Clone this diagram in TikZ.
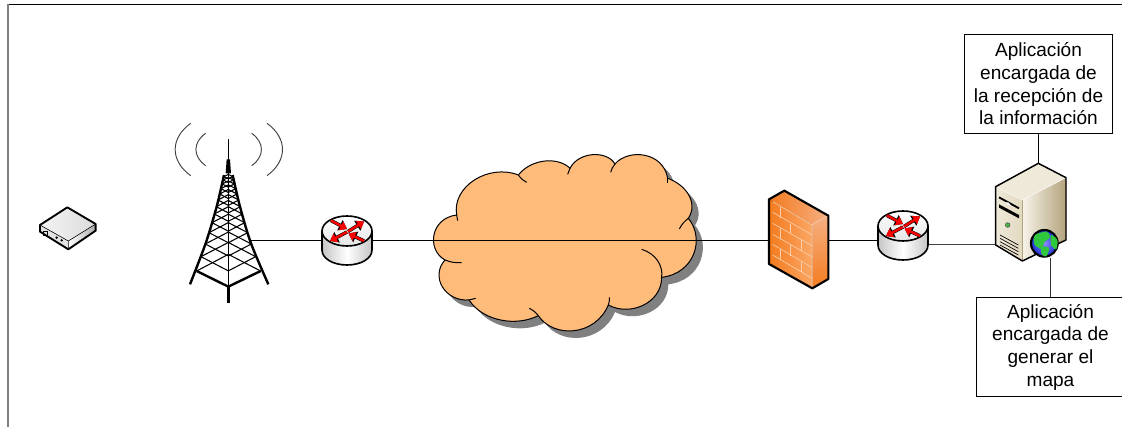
\documentclass[tikz,border=0pt]{standalone}
\usepackage{fontspec}
\setmainfont{Liberation Sans}
\usepackage{xcolor}
\usetikzlibrary{arrows.meta}

\definecolor{cloudfill}{HTML}{FFBB7A}
\definecolor{cloudshadow}{HTML}{808080}
\definecolor{wavegray}{HTML}{404040}
\definecolor{frameleft}{HTML}{808080}
\definecolor{brick}{HTML}{F9CDA8}
\definecolor{fireA}{HTML}{F47B1E}
\definecolor{fireB}{HTML}{FAA766}
\definecolor{fireC}{HTML}{F5B083}
\definecolor{srvA}{HTML}{EFE9D9}
\definecolor{srvB}{HTML}{E2D9C0}
\definecolor{srvC}{HTML}{B3A37C}
\definecolor{srvD}{HTML}{F7F4EA}
\definecolor{globeblue}{HTML}{1A2FD0}
\definecolor{globegreen}{HTML}{2FC83C}

\newcommand\cloudshape{
    (110,225) .. controls (95,140) and (205,70) .. (295,105)
    .. controls (335,55) and (415,50) .. (450,85)
    .. controls (475,35) and (560,30) .. (585,72)
    .. controls (625,25) and (730,35) .. (743,115)
    .. controls (800,135) and (835,190) .. (805,235)
    .. controls (855,295) and (825,400) .. (725,412)
    .. controls (725,490) and (630,530) .. (565,495)
    .. controls (525,590) and (400,595) .. (355,527)
    .. controls (290,560) and (190,545) .. (147,480)
    .. controls (75,485) and (30,410) .. (75,360)
    .. controls (20,330) and (30,235) .. (110,225) -- cycle
}

\tikzset{
    pics/router/.style={code={
        \fill[left color=gray!45, right color=gray!45, middle color=white]
            (-25,-9.5) -- (-25,9.5) .. controls (-25,18) and (-14,24.5) .. (0,24.5)
            .. controls (14,24.5) and (25,18) .. (25,9.5) -- (25,-9.5) -- cycle;
        \draw[line width=1.2pt]
            (-25,-9.5) -- (-25,9.5) .. controls (-25,18) and (-14,24.5) .. (0,24.5)
            .. controls (14,24.5) and (25,18) .. (25,9.5) -- (25,-9.5);
        \draw[line width=1.2pt, top color=white, bottom color=gray!20]
            (0,-9.5) ellipse [x radius=25, y radius=15];
        \foreach \ax/\ay/\bx/\by in {-16/-20/0/-11.5, 1/-9/17/-19, 0/-8.5/-17/0.5, 17/0.5/1.5/-7}{
            \draw[black, line width=2.6pt, -{Triangle[length=6pt, width=8.5pt]}] (\ax,\ay) -- (\bx,\by);
            \draw[red, line width=1.8pt, -{Triangle[length=5pt, width=7pt]}] (\ax,\ay) -- (\bx,\by);
        }
    }}
}

\begin{document}
\begin{tikzpicture}[
    x=0.75pt, y=-0.75pt,
    slot/.style={inner sep=0pt, minimum height=10pt},
    infobox/.style={draw, line width=0.75pt, inner sep=0pt, minimum width=111pt, minimum height=74.25pt, align=center, font=\fontsize{14.3}{17}\selectfont},
    link/.style={line width=0.75pt}
]
    \useasboundingbox (0,0) rectangle (1122,427);

    \draw[link] (8,4.5) -- (1122,4.5);
    \draw[line width=1.1pt, frameleft] (8,4.5) -- (8,427);

    \begin{scope}[shift={(420,140)}, scale=1/3]
        \fill[cloudshadow, shift={(20,21)}] \cloudshape;
        \filldraw[cloudfill, draw=black, line width=0.75pt] \cloudshape;
        \foreach \a/\b in {{110,225}/{113,242}, {295,105}/{320,127}, {450,85}/{443,103}, {585,72}/{572,97},
                           {743,115}/{743,130}, {805,235}/{778,267}, {565,495}/{568,472}, {355,527}/{328,505},
                           {147,480}/{167,475}, {75,360}/{125,368}}
            \draw[line width=0.75pt] (\a) to[bend right=12] (\b);
        \draw[line width=0.75pt] (725,412) .. controls (730,375) and (705,340) .. (665,328);
    \end{scope}

    \node[slot, minimum width=34.5pt] (tower) at (228,240.5) {};
    \node[slot, minimum width=37.5pt] (routerA) at (347,240.5) {};
    \node[slot, minimum width=44.25pt] (firewall) at (798.5,240.5) {};
    \node[slot, minimum width=37.5pt] (routerB) at (903,235.5) {};
    \node[slot, minimum width=52.5pt, minimum height=73.5pt] (server) at (1031,212) {};
    \node[slot, minimum width=42pt] (modem) at (68,229) {};
    \node[slot, minimum width=21pt, minimum height=21pt] (globe) at (1044.3,243.3) {};
    \coordinate (srvport) at (996,244.5);

    \node[infobox] (appA) at (1038.5,84) {Aplicación\\encargada de\\la recepción de\\la información};
    \node[infobox] (appB) at (1050.5,347) {Aplicación\\encargada de\\generar el\\mapa};

    \draw[link] (tower.east) -- (routerA.west);
    \draw[link] (routerA.east) -- (firewall.west);
    \draw[link] (firewall.east) -- (firewall.east -| routerB.west);
    \draw[link, black!75] (srvport -| routerB.east) -- (srvport);
    \draw[link] (appA.south) -- (appA.south |- server.north);
    \draw[link, black!80] (appB.north) -- (appB.north |- globe.south);

    \begin{scope}[shift={(30,200)}, scale=1/3]
        \fill[gray!22] (30,75) -- (115,123) -- (115,148) -- (30,95) -- cycle;
        \fill[left color=white, right color=gray!65] (115,123) -- (197,72) -- (197,92) -- (115,148) -- cycle;
        \fill[left color=gray!8, right color=gray!28] (30,75) -- (112,22) -- (197,72) -- (115,123) -- cycle;
        \draw[line width=1.4pt, line join=round] (30,75) -- (112,22) -- (197,72) -- (197,92) -- (115,148) -- (30,95) -- cycle;
        \draw[line width=0.4pt] (30,75) -- (115,123) -- (197,72) (115,123) -- (115,148);
        \draw[line width=0.4pt] (41,93) rectangle (52,106);
        \fill (80,113) circle (4) (95,121) circle (4);
    \end{scope}

    \begin{scope}[shift={(20,110)}, scale=1/3]
        \draw[wavegray, line width=0.7pt] (512,40) .. controls (450,85) and (450,152) .. (512,197);
        \draw[wavegray, line width=0.7pt] (557,70) .. controls (518,97) and (518,140) .. (557,167);
        \draw[wavegray, line width=0.7pt] (741,40) .. controls (803,85) and (803,152) .. (741,197);
        \draw[wavegray, line width=0.7pt] (695,70) .. controls (734,97) and (734,140) .. (695,167);
        \draw[line width=1.2pt] (625,88) -- (625,150);
        \fill (617,190) -- (620,148) -- (630,148) -- (633,190) -- cycle;
        \foreach \ly/\lw in {200/13, 210/15, 222/18, 236/22, 252/26, 270/31, 290/36, 312/42, 338/49, 368/58, 402/69, 440/82}{
            \draw[line width=0.8pt] (625-\lw,\ly) -- (625,\ly+0.52*\lw) -- (625+\lw,\ly);
            \draw[line width=0.8pt] (625-\lw,\ly) -- (625,\ly-0.52*\lw) -- (625+\lw,\ly);
        }
        \draw[line width=0.8pt] (530,483) -- (625,433) -- (722,483);
        \draw[line width=1.8pt] plot[smooth] coordinates {(612,195) (590,290) (557,400) (510,523)};
        \draw[line width=1.8pt] plot[smooth] coordinates {(638,195) (660,290) (693,400) (745,523)};
        \draw[line width=1.2pt] (625,190) -- (625,530);
        \draw[line width=1.8pt] (625,530) -- (625,580);
        \draw[line width=1.8pt, line join=round] (530,483) -- (625,530) -- (722,483);
    \end{scope}

    \pic at (routerA) {router};
    \pic at (routerB) {router};

    \begin{scope}[shift={(760,185)}, scale=1/3]
        \fill[left color=fireA, right color=fireB] (27,43) -- (157,118) -- (157,310) -- (27,237) -- cycle;
        \fill[bottom color=fireA, top color=fireC] (157,118) -- (205,92) -- (205,282) -- (157,310) -- cycle;
        \fill[left color=fireA, right color=fireC] (27,43) -- (73,17) -- (205,92) -- (157,118) -- cycle;
        \foreach \yl/\yr in {50/120, 82/150, 115/183, 148/216, 178/248, 210/280}
            \draw[brick, line width=0.5pt] (38,\yl) -- (157,\yr);
        \foreach \jx/\jy in {60/66, 92/116, 125/165, 60/130, 92/180, 60/193, 125/229}
            \draw[brick, line width=0.5pt] (\jx,\jy) -- (\jx,\jy+32);
        \draw[brick, line width=0.6pt] (157,118) -- (157,310) (157,118) -- (205,92);
        \draw[line width=1.6pt, line join=round] (27,43) -- (73,17) -- (205,92) -- (205,282) -- (157,310) -- (27,237) -- cycle;
    \end{scope}

    \begin{scope}[shift={(985,155)}, scale=1/3]
        \fill[left color=srvD, right color=srvC] (112,135) -- (243,68) -- (243,255) -- (112,318) -- cycle;
        \fill[left color=srvA, right color=srvB] (32,95) -- (112,135) -- (112,318) -- (32,270) -- cycle;
        \fill[srvA] (32,95) -- (160,25) -- (243,68) -- (112,135) -- cycle;
        \draw[line width=0.4pt, srvC] (112,135) -- (112,318);
        \draw[line width=0.4pt, white] (32,95) -- (112,135) -- (243,68);
        \draw[line width=1.1pt, line join=round] (32,95) -- (160,25) -- (243,68) -- (243,255) -- (112,318) -- (32,270) -- cycle;
        \draw[line width=1.4pt] (42,127) -- (102,160);
        \fill[black] (42,148) -- (102,180) -- (102,190) -- (42,158) -- cycle;
        \fill[white] (58,143) -- (80,154) -- (70,142) -- cycle;
        \filldraw[fill=green!45!gray, draw=black!70, line width=0.4pt] (68,210) circle (7);
        \foreach \vy in {240,250,260,270}
            \draw[line width=0.5pt] (45,\vy) -- (100,\vy+30);
        \filldraw[line width=1.6pt, draw=black, inner color=blue!45!white, outer color=globeblue] (178,265) circle (40);
        \fill[globegreen] plot[smooth cycle] coordinates {(150,240) (185,230) (195,246) (178,262) (170,282) (148,268)};
        \fill[globegreen] plot[smooth cycle] coordinates {(170,276) (192,279) (184,304) (170,298)};
        \fill[globegreen] plot[smooth cycle] coordinates {(198,240) (217,255) (214,282) (199,272)};
    \end{scope}
\end{tikzpicture}
\end{document}
